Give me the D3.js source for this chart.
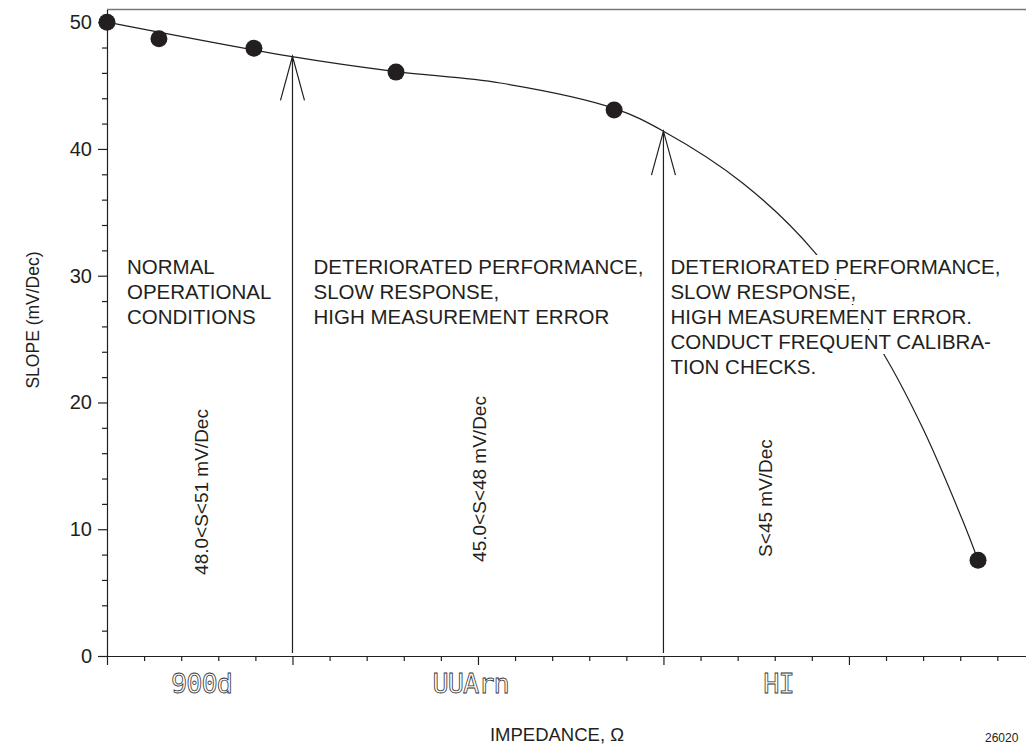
<!DOCTYPE html>
<html>
<head>
<meta charset="utf-8">
<script src="https://cdn.jsdelivr.net/npm/d3@7"></script>
<style>
  body { margin: 0; background: #fff; }
  svg { display: block; font-family: "Liberation Sans", Arial, sans-serif; }
</style>
</head>
<body>
<div id="chart"></div>
<script>
// measured points (impedance in tick units, slope in mV/Dec)
const pointX = [0, 1.4, 3.96, 7.79, 13.67, 23.48];
const pointY = [50, 48.7, 47.95, 46.06, 43.07, 7.56];

// fitted curve drawn through the data
const curveX = [0, 4.95, 7.79, 10.6, 13.67, 15.0, 17.14, 19.06, 20.92, 22.0, 23.05, 23.48];
const curveY = [50, 47.3, 46.1, 45.2, 43.2, 41.4, 37.3, 31.9, 23.9, 17.9, 10.8, 7.56];

// zone boundaries (arrows) and where they meet the curve
const boundaryX = [5, 15];
const boundaryTipY = [47.3, 41.4];

// zone texts
const zoneStart = [0, 5, 15];
const zoneNotes = [
  ["NORMAL", "OPERATIONAL", "CONDITIONS"],
  ["DETERIORATED PERFORMANCE,", "SLOW RESPONSE,", "HIGH MEASUREMENT ERROR"],
  ["DETERIORATED PERFORMANCE,", "SLOW RESPONSE,", "HIGH MEASUREMENT ERROR.", "CONDUCT FREQUENT CALIBRA-", "TION CHECKS."]
];
const rangeLabels = ["48.0<S<51 mV/Dec", "45.0<S<48 mV/Dec", "S<45 mV/Dec"];
const rangeLabelX = [2.5, 10, 17.7];
const displayLabels = ["900d", "UUArn", "HI"];
const displayLabelX = [2.55, 9.8, 18.1];

const yMajorTicks = [0, 10, 20, 30, 40, 50];
const yMinorTicks = d3.range(0, 51, 2).filter(v => v % 10 !== 0);
const xMajorTicks = [0, 5, 10, 15, 20];
const xMinorTicks = d3.range(0, 25).filter(v => v % 5 !== 0);

const width = 1026, height = 744;
const ink = '#231f20';

const svg = d3.select('#chart').append('svg')
  .attr('width', width)
  .attr('height', height);

const x = d3.scaleLinear().domain([0, 24.8]).range([107, 1027]);
const y = d3.scaleLinear().domain([0, 51]).range([656, 9.5]);

// top border
svg.append('line')
  .attr('x1', x(0)).attr('x2', width)
  .attr('y1', y(51)).attr('y2', y(51))
  .attr('stroke', '#777').attr('stroke-width', 1.6);

// axes
function styleAxis(g) {
  g.selectAll('path, line').attr('stroke', ink).attr('stroke-width', 1.2);
  g.selectAll('text').attr('fill', ink).style('font-size', '20px')
    .style('font-family', '"Liberation Sans", Arial, sans-serif');
}

svg.append('g')
  .attr('transform', `translate(${x(0)},0)`)
  .call(d3.axisLeft(y).tickValues(yMinorTicks).tickSize(5).tickFormat(''))
  .call(g => g.select('.domain').remove())
  .call(styleAxis);
svg.append('g')
  .attr('transform', `translate(${x(0)},0)`)
  .call(d3.axisLeft(y).tickValues(yMajorTicks).tickSize(9).tickPadding(6).tickSizeOuter(0))
  .call(styleAxis);

svg.append('g')
  .attr('transform', `translate(0,${y(0)})`)
  .call(d3.axisBottom(x).tickValues(xMinorTicks).tickSize(5).tickFormat(''))
  .call(g => g.select('.domain').remove())
  .call(styleAxis);
svg.append('g')
  .attr('transform', `translate(0,${y(0)})`)
  .call(d3.axisBottom(x).tickValues(xMajorTicks).tickSize(9).tickFormat('').tickSizeOuter(0))
  .call(styleAxis);

// curve
const curveData = curveX.map((d, i) => [d, curveY[i]]);
svg.append('path')
  .datum(curveData)
  .attr('fill', 'none')
  .attr('stroke', ink)
  .attr('stroke-width', 1.2)
  .attr('d', d3.line().x(d => x(d[0])).y(d => y(d[1])).curve(d3.curveCatmullRom.alpha(0.5)));

// boundary arrows
boundaryX.forEach((bx, i) => {
  const tx = x(bx), ty = y(boundaryTipY[i]);
  const g = svg.append('g').attr('stroke', ink).attr('stroke-width', 1.2).attr('fill', 'none');
  g.append('line').attr('x1', tx).attr('x2', tx).attr('y1', y(0) - 3).attr('y2', ty);
  g.append('path').attr('d', `M${tx - 12},${ty + 44}L${tx},${ty}L${tx + 12},${ty + 44}`);
});

// points
svg.selectAll('circle.pt')
  .data(pointX.map((d, i) => [d, pointY[i]]))
  .enter().append('circle')
  .attr('class', 'pt')
  .attr('cx', d => x(d[0]))
  .attr('cy', d => y(d[1]))
  .attr('r', 8.5)
  .attr('fill', ink);

// zone notes, with white boxes knocking out the curve behind them
const noteOffset = [20, 21, 7];
zoneNotes.forEach((lines, i) => {
  const g = svg.append('g');
  lines.forEach((t, j) => {
    const lg = g.append('g');
    const txt = lg.append('text')
      .attr('x', x(zoneStart[i]) + noteOffset[i])
      .attr('y', 274 + j * 25)
      .attr('fill', ink)
      .style('font-size', '20.5px')
      .text(t);
    const b = txt.node().getBBox();
    lg.insert('rect', 'text')
      .attr('x', b.x - 3).attr('y', b.y)
      .attr('width', b.width + 6).attr('height', b.height + 1)
      .attr('fill', '#fff');
  });
});

// rotated slope ranges
const rangeLabelMid = [492, 479, 498];
rangeLabels.forEach((t, i) => {
  svg.append('text')
    .attr('transform', `translate(${x(rangeLabelX[i]) + 8},${rangeLabelMid[i]}) rotate(-90)`)
    .attr('text-anchor', 'middle')
    .attr('fill', ink)
    .style('font-size', '19px')
    .text(t);
});

// meter display words (outlined, like LCD segments)
displayLabels.forEach((t, i) => {
  svg.append('text')
    .attr('transform', `translate(${x(displayLabelX[i])},693) rotate(0.01)`)
    .attr('text-anchor', 'middle')
    .attr('fill', '#fff')
    .attr('stroke', '#333')
    .attr('stroke-width', 0.8)
    .style('font-family', '"DejaVu Sans Mono", monospace')
    .style('font-size', '27px')
    .style('letter-spacing', '-1px')
    .text(t);
});

// axis titles
svg.append('text')
  .attr('transform', 'translate(39,320) rotate(-90)')
  .attr('text-anchor', 'middle')
  .attr('fill', ink)
  .style('font-size', '17.5px')
  .text('SLOPE (mV/Dec)');

svg.append('text')
  .attr('x', 557)
  .attr('y', 741)
  .attr('text-anchor', 'middle')
  .attr('fill', ink)
  .style('font-size', '18.5px')
  .text('IMPEDANCE, Ω');

svg.append('text')
  .attr('x', 985)
  .attr('y', 742)
  .attr('fill', ink)
  .style('font-size', '12px')
  .text('26020');
</script>
</body>
</html>
